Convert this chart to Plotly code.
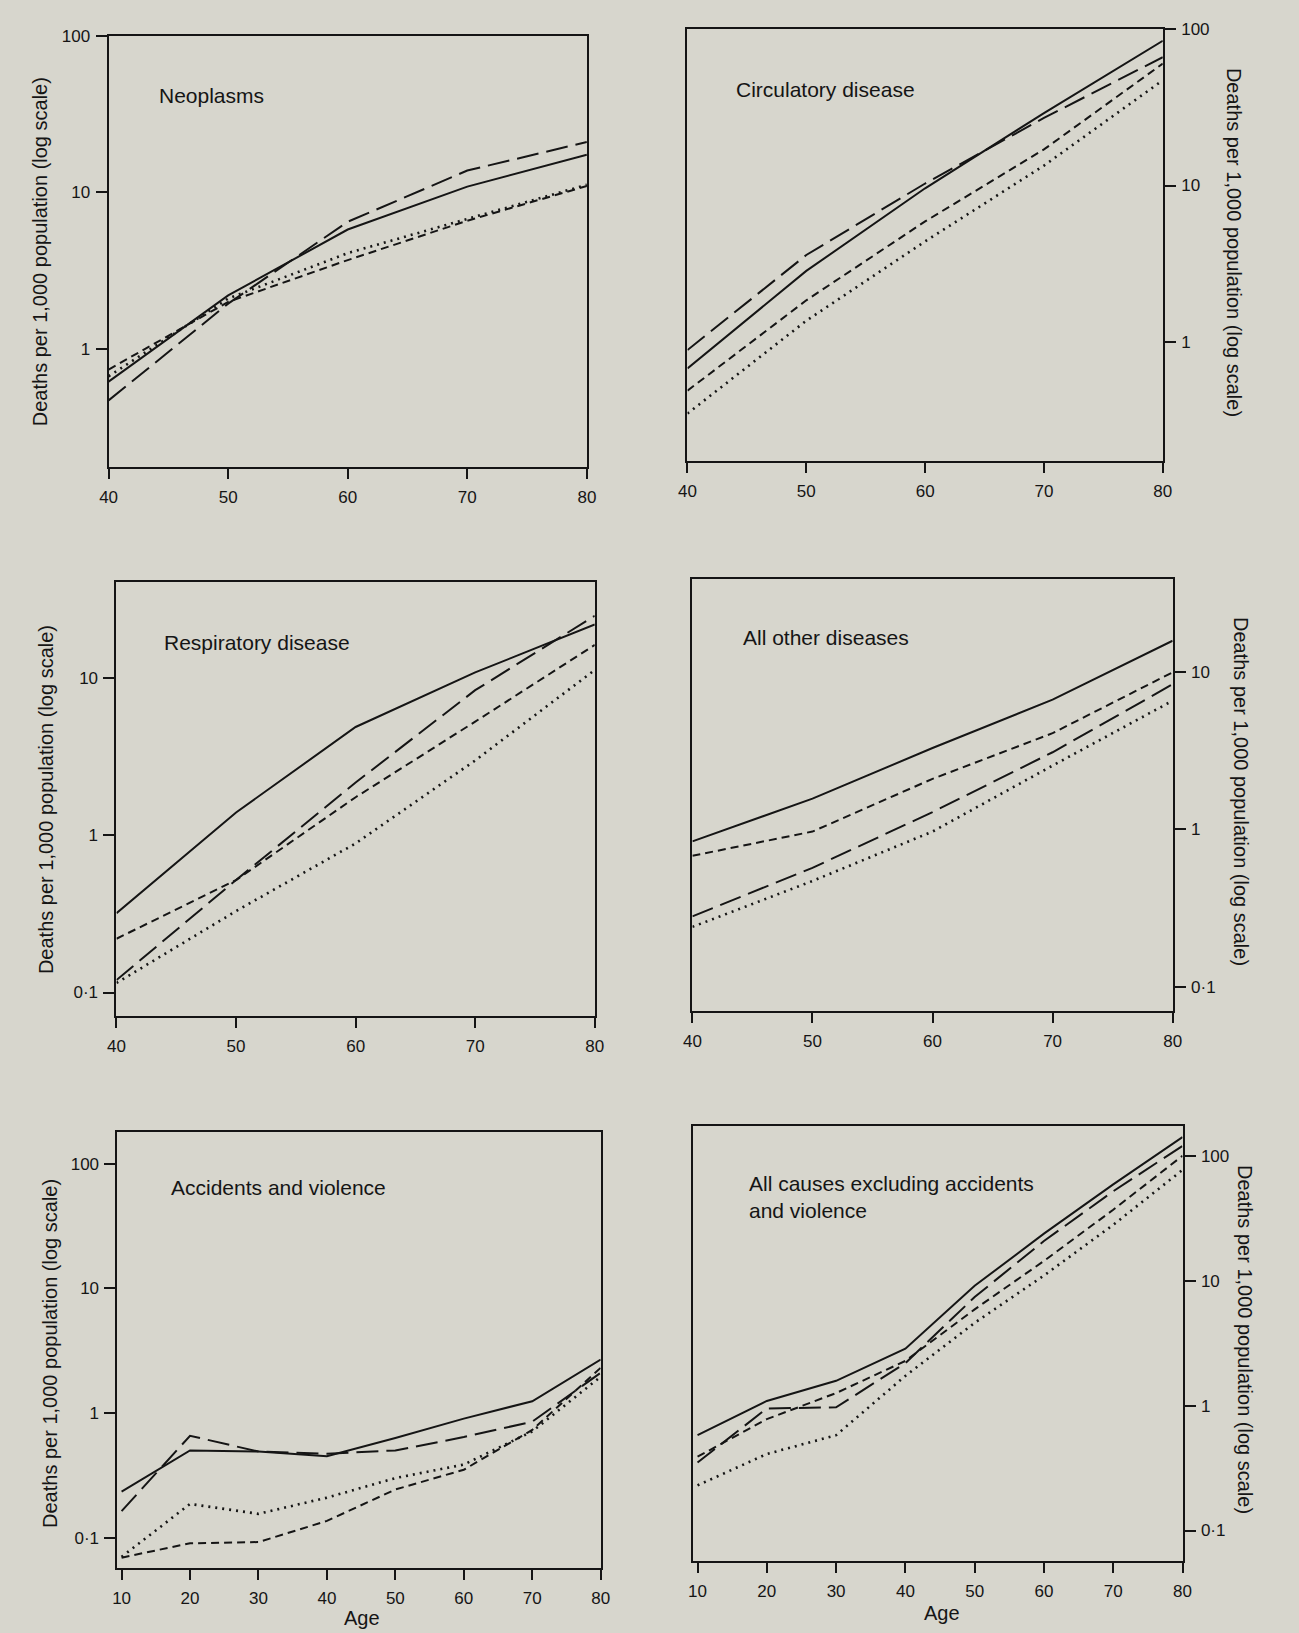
import plotly.graph_objects as go

W, H = 1299, 1633

ages_mid = [40, 50, 60, 70, 80]
ages_all = [10, 20, 30, 40, 50, 60, 70, 80]

# Neoplasms
neo_solid = [0.62, 2.2, 5.8, 10.9, 17.4]
neo_long = [0.47, 1.95, 6.5, 13.8, 21]
neo_short = [0.74, 2.0, 3.7, 6.6, 11.0]
neo_dot = [0.67, 2.1, 4.1, 6.8, 11.2]

# Circulatory disease
circ_solid = [0.68, 2.85, 9.6, 29, 84]
circ_long = [0.89, 3.6, 10.3, 27, 66]
circ_short = [0.49, 1.85, 5.9, 17, 60]
circ_dot = [0.35, 1.37, 4.4, 13.4, 47]

# Respiratory disease
resp_solid = [0.32, 1.40, 4.9, 10.9, 22]
resp_long = [0.12, 0.52, 2.17, 8.4, 25]
resp_short = [0.22, 0.52, 1.75, 5.3, 16.3]
resp_dot = [0.115, 0.33, 0.89, 3.0, 11.3]

# All other diseases
oth_solid = [0.84, 1.57, 3.3, 6.7, 15.9]
oth_long = [0.28, 0.57, 1.29, 3.1, 8.4]
oth_short = [0.68, 0.97, 2.1, 4.1, 10.0]
oth_dot = [0.24, 0.47, 0.97, 2.55, 6.6]

# Accidents and violence
acc_solid = [0.234, 0.50, 0.49, 0.45, 0.63, 0.9, 1.24, 2.68]
acc_long = [0.163, 0.655, 0.49, 0.47, 0.50, 0.64, 0.85, 2.1]
acc_short = [0.069, 0.09, 0.092, 0.136, 0.243, 0.35, 0.73, 2.3]
acc_dot = [0.07, 0.186, 0.155, 0.209, 0.30, 0.385, 0.71, 1.95]

# All causes excluding accidents and violence
allc_solid = [0.58, 1.09, 1.58, 2.86, 9.1, 23.8, 59, 141]
allc_long = [0.35, 0.95, 0.97, 2.19, 7.4, 20.8, 52, 120]
allc_short = [0.39, 0.78, 1.26, 2.28, 5.9, 14.4, 37, 100]
allc_dot = [0.23, 0.41, 0.58, 1.73, 4.6, 11, 28, 77]

titles = ["Neoplasms", "Circulatory disease", "Respiratory disease",
          "All other diseases", "Accidents and violence",
          "All causes excluding accidents<br>and violence"]
ytitle = "Deaths per 1,000 population (log scale)"

BG = "#d7d6cd"
INK = "#151515"
FONT = "Liberation Sans, Arial, Helvetica, sans-serif"

DASHES = {"solid": "solid", "long": "22px,8px", "short": "8px,5px", "dot": "2px,5px"}

panels = [
    dict(px=(101, 586), py=(27, 461), xr=[40, 80], yr=[-0.756, 2.0], side="left",
         s=[neo_solid, neo_long, neo_short, neo_dot], ages=ages_mid, yt=[1, 10, 100]),
    dict(px=(688, 1170), py=(20, 455), xr=[40, 80], yr=[-0.762, 2.0], side="right",
         s=[circ_solid, circ_long, circ_short, circ_dot], ages=ages_mid, yt=[1, 10, 100]),
    dict(px=(109, 594), py=(576, 1013), xr=[40, 80], yr=[-1.152, 1.614], side="left",
         s=[resp_solid, resp_long, resp_short, resp_dot], ages=ages_mid, yt=[0.1, 1, 10]),
    dict(px=(693, 1180), py=(573, 1008), xr=[40, 80], yr=[-1.158, 1.595], side="right",
         s=[oth_solid, oth_long, oth_short, oth_dot], ages=ages_mid, yt=[0.1, 1, 10]),
    dict(px=(110, 600), py=(1129, 1568), xr=[9.4, 80], yr=[-1.247, 2.255], side="left",
         s=[acc_solid, acc_long, acc_short, acc_dot], ages=ages_all, yt=[0.1, 1, 10, 100]),
    dict(px=(694, 1190), py=(1123, 1561), xr=[9.4, 80], yr=[-1.247, 2.24], side="right",
         s=[allc_solid, allc_long, allc_short, allc_dot], ages=ages_all, yt=[0.1, 1, 10, 100]),
]

def lab(v):
    return "0·1" if v == 0.1 else str(int(v))

fig = go.Figure()
layout = {}
styles = ["solid", "long", "short", "dot"]
for i, p in enumerate(panels):
    n = "" if i == 0 else str(i + 1)
    for ser, st in zip(p["s"], styles):
        fig.add_trace(go.Scatter(
            x=p["ages"], y=ser, mode="lines",
            line=dict(color=INK, width=2 if st != "dot" else 2.6, dash=DASHES[st]),
            xaxis="x" + n, yaxis="y" + n, showlegend=False, hoverinfo="skip",
            cliponaxis=True))
    xt = p["ages"]
    layout["xaxis" + n] = dict(
        domain=[p["px"][0] / W, p["px"][1] / W], range=p["xr"], anchor="y" + n,
        showline=True, linecolor=INK, linewidth=2, mirror=True,
        ticks="outside", ticklen=10, tickwidth=1.8, tickcolor=INK,
        tickvals=xt, ticktext=[str(a) for a in xt], showgrid=False, zeroline=False,
        tickfont=dict(size=17, color=INK, family=FONT), ticklabelstandoff=3)
    layout["yaxis" + n] = dict(
        domain=[1 - p["py"][1] / H, 1 - p["py"][0] / H], range=p["yr"], type="log",
        anchor="x" + n, side=p["side"],
        showline=True, linecolor=INK, linewidth=2, mirror=True,
        ticks="outside", ticklen=11, tickwidth=1.8, tickcolor=INK,
        tickvals=p["yt"], ticktext=[lab(v) for v in p["yt"]], showgrid=False, zeroline=False,
        tickfont=dict(size=17, color=INK, family=FONT), ticklabelstandoff=2)

ann = []
title_pos = [(150, 87), (735, 81), (155, 637), (742, 632), (162, 1185), (748, 1195)]
for t, (x, y) in zip(titles, title_pos):
    ann.append(dict(text=t, x=x / W, y=1 - y / H, xref="paper", yref="paper",
                    xanchor="left", yanchor="middle", showarrow=False, align="left",
                    font=dict(size=21, color=INK, family=FONT)))
ytitle_pos = [(31, 244, -90), (1243, 235, 90), (37, 795, -90), (1250, 787, 90),
              (41, 1352, -90), (1254, 1338, 90)]
for x, y, a in ytitle_pos:
    ann.append(dict(text=ytitle, x=x / W, y=1 - y / H, xref="paper", yref="paper",
                    xanchor="center", yanchor="middle", showarrow=False, textangle=a,
                    font=dict(size=20, color=INK, family=FONT)))
for x, y in [(358, 1618), (946, 1613)]:
    ann.append(dict(text="Age", x=x / W, y=1 - y / H, xref="paper", yref="paper",
                    xanchor="center", yanchor="middle", showarrow=False,
                    font=dict(size=20, color=INK, family=FONT)))

fig.update_layout(width=W, height=H, autosize=False,
                  margin=dict(l=0, r=0, t=0, b=0, pad=0),
                  paper_bgcolor=BG, plot_bgcolor=BG,
                  font=dict(family=FONT, color=INK), annotations=ann, **layout)
fig.write_html("out.html")
